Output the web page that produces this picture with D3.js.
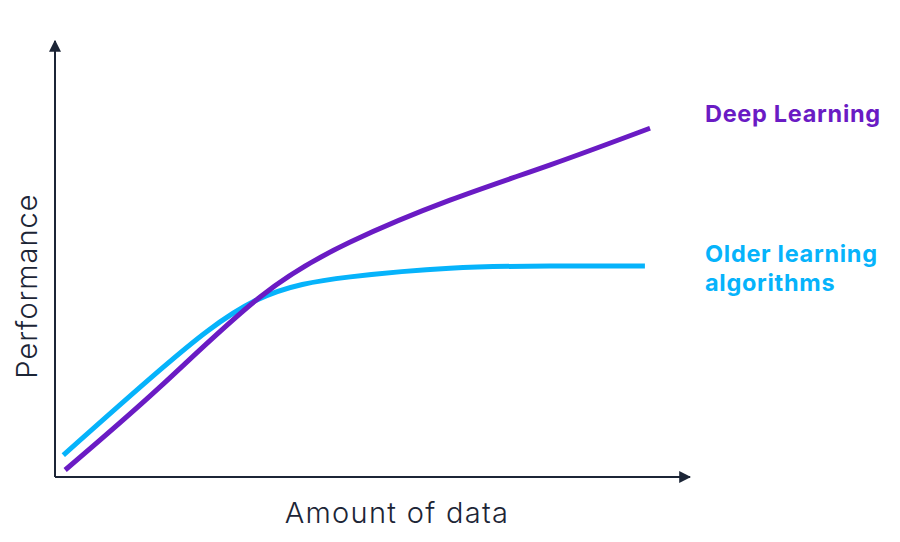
<!DOCTYPE html>
<html>
<head>
<meta charset="utf-8">
<script src="https://cdn.jsdelivr.net/npm/d3@7"></script>
<style>
  body { margin: 0; background: #fff; }
  .axis-line { stroke: #1c2536; stroke-width: 2; fill: none; }
  .axis-title { font-family: Inter, "Noto Sans", sans-serif; font-weight: 300; font-size: 29px; fill: #1c2536; }
  .label { font-family: Inter, "Noto Sans", sans-serif; font-weight: 700; font-size: 23.5px; letter-spacing: 0.7px; }
  .line { fill: none; stroke-width: 5; stroke-linecap: butt; }
</style>
</head>
<body>
<div id="chart"></div>
<script>
// amount of data (arbitrary units 0-100) and performance (0-100)
const deepX = [1.6, 16.5, 32.3, 46.5, 62.2, 78.0, 93.7];
const deepY = [1.6, 20.6, 41.3, 53.9, 63.5, 71.6, 80.0];
const olderX = [1.3, 16.5, 31.5, 46.5, 62.2, 78.0, 92.9];
const olderY = [5.0, 24.5, 40.4, 45.9, 47.9, 48.4, 48.4];
const seriesNames = ["Deep Learning", "Older learning algorithms"];
const xTitle = "Amount of data";
const yTitle = "Performance";

const width = 900;
const height = 542;
const origin = { x: 55, y: 477 };

const xScale = d3.scaleLinear().domain([0, 100]).range([origin.x, 690]);
const yScale = d3.scaleLinear().domain([0, 100]).range([origin.y, 41]);

const svg = d3
  .select("#chart")
  .append("svg")
  .attr("width", width)
  .attr("height", height);

const defs = svg.append("defs");
defs
  .append("marker")
  .attr("id", "arrow")
  .attr("viewBox", "0 0 10 10")
  .attr("refX", 9)
  .attr("refY", 5)
  .attr("markerWidth", 6)
  .attr("markerHeight", 6)
  .attr("markerUnits", "strokeWidth")
  .attr("orient", "auto")
  .append("path")
  .attr("d", "M0,0 L10,5 L0,10 Z")
  .attr("fill", "#1c2536");

// axes with arrow heads
svg
  .append("line")
  .attr("class", "axis-line")
  .attr("x1", xScale(0))
  .attr("y1", yScale(0))
  .attr("x2", xScale(0))
  .attr("y2", yScale(100))
  .attr("marker-end", "url(#arrow)");
svg
  .append("line")
  .attr("class", "axis-line")
  .attr("x1", xScale(0))
  .attr("y1", yScale(0))
  .attr("x2", xScale(100))
  .attr("y2", yScale(0))
  .attr("marker-end", "url(#arrow)");

svg
  .append("text")
  .attr("class", "axis-title")
  .attr("x", 397)
  .attr("y", 523)
  .attr("text-anchor", "middle")
  .attr("letter-spacing", "1.3px")
  .text(xTitle);

svg
  .append("text")
  .attr("class", "axis-title")
  .attr("transform", "translate(37,286) rotate(-90)")
  .attr("text-anchor", "middle")
  .attr("letter-spacing", "1px")
  .text(yTitle);

const line = d3
  .line()
  .x((d) => xScale(d[0]))
  .y((d) => yScale(d[1]))
  .curve(d3.curveNatural);

const series = [
  { name: seriesNames[1], color: "#06b3fb", pts: d3.zip(olderX, olderY) },
  { name: seriesNames[0], color: "#6a1bc4", pts: d3.zip(deepX, deepY) },
];

svg
  .selectAll("path.line")
  .data(series)
  .enter()
  .append("path")
  .attr("class", "line")
  .attr("stroke", (d) => d.color)
  .attr("d", (d) => line(d.pts));

// end labels
svg
  .append("text")
  .attr("class", "label")
  .attr("x", 705)
  .attr("y", 122)
  .attr("fill", "#6a1bc4")
  .text(seriesNames[0]);

const older = svg
  .append("text")
  .attr("class", "label")
  .attr("fill", "#06b3fb");
older.append("tspan").attr("x", 705).attr("y", 262).text("Older learning");
older.append("tspan").attr("x", 705).attr("y", 291).text("algorithms");
</script>
</body>
</html>
